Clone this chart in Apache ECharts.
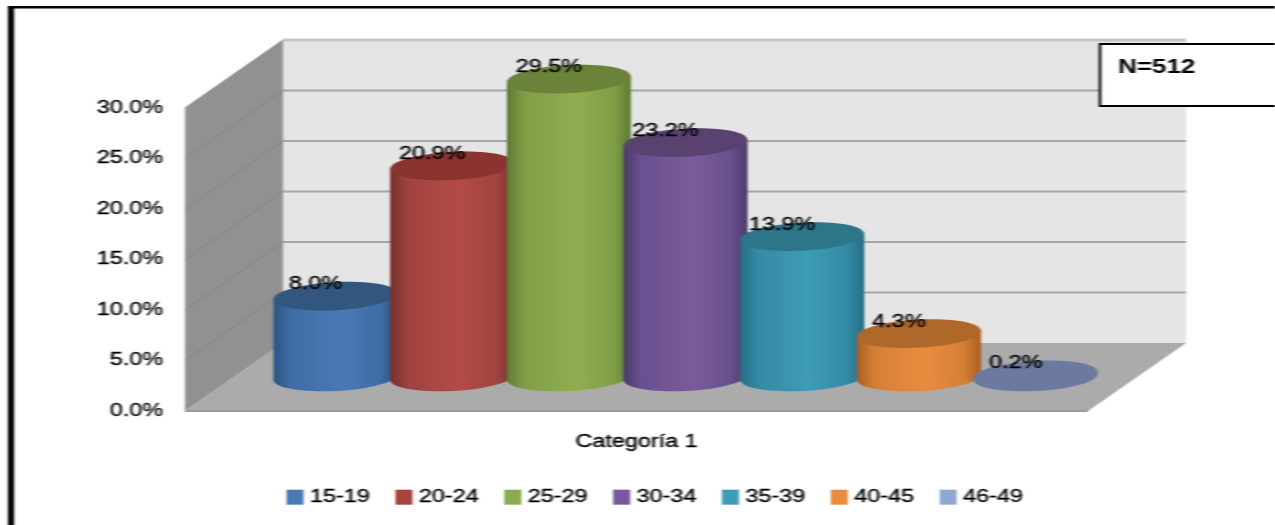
<!DOCTYPE html>
<html><head><meta charset="utf-8">
<style>html,body{margin:0;padding:0;background:#fff;overflow:hidden}
#c{width:981px;height:525px;transform:scaleX(1.2997);transform-origin:0 0;filter:blur(0.7px)}</style>
<script src="https://cdn.jsdelivr.net/npm/echarts@6/dist/echarts.min.js"></script>
</head><body><div id="c"></div>
<script>
const categories = ['Categoría 1'];
const seriesNames = ['15-19','20-24','25-29','30-34','35-39','40-45','46-49'];
const seriesValues = [8.0,20.9,29.5,23.2,13.9,4.3,0.2];
const yTicks = [0,5,10,15,20,25,30];
const noteText = 'N=512';
const swatch = ['#4a7ab5','#a8423f','#8cab4f','#75599a','#3d9bb5','#e88b3e','#8fa8d0'];
const edge   = ['#2b5484','#74302d','#5f7a33','#4c3a68','#256f84','#a85f1f','#6b7a9e'];
const shoulder=['#3f6da5','#a04340','#80a047','#6a5090','#348ba5','#d67f38','#6b7a9e'];
const mid    = ['#4a7ab5','#b34b47','#90ae50','#7a5c9c','#3f9cb6','#ea8c3f','#6b7a9e'];
const topCol = ['#33567f','#8a3331','#6c8238','#5a4270','#2d7589','#ad682a','#6b7a9e'];

const S = 1275/981;
const px = v => v/S;
const FONT = '"Liberation Sans"';
const DX = px(98), DY = 68, SPACING = px(116.7), RX = px(62), RY = 14, TILT = 0.07, SK = 3;
const INK = {color:'#000',textBorderColor:'#000',textBorderWidth:0.35};

function wallsItem(params, api){
  const t = api.value(1), cs = params.coordSys;
  const L = cs.x, R = cs.x+cs.width, y = api.coord([0,t])[1], kids = [];
  const poly = (pts,fill)=>({type:'polygon',shape:{points:pts},style:{fill}});
  const line = (x1,y1,x2,y2,stroke,w)=>({type:'line',shape:{x1,y1,x2,y2},style:{stroke,lineWidth:w}});
  if(t===0){
    const top = cs.y;
    kids.push(poly([[L+DX,top-DY],[R+DX,top-DY],[R+DX,y-DY],[L+DX,y-DY]],'#e5e5e5'));
    kids.push(poly([[L,top],[L+DX,top-DY],[L+DX,y-DY],[L,y]],'#919191'));
    kids.push(poly([[L,y],[L+DX,y-DY],[R+DX,y-DY],[R,y]],'#ababab'));
    kids.push(line(L,y,R,y,'#9a9a9a',2));
  } else {
    kids.push(line(L,y,L+DX,y-DY,'#858585',1));
    kids.push(line(L+DX,y-DY,R+DX,y-DY,t===30?'#c6c6c6':'#a6a6a6',t===30?3:2));
  }
  return {type:'group',children:kids};
}

function cylItem(i){ return function(params, api){
  const v = api.value(1), base = api.coord([0,0]), top = api.coord([0,v]);
  const cx = base[0]+DX/2+(i-3)*SPACING, by = base[1]-DY/2, ty = top[1]-DY/2;
  const grad = {type:'linear',x:0,y:0,x2:1,y2:0,colorStops:[
    {offset:0,color:edge[i]},{offset:0.14,color:shoulder[i]},{offset:0.55,color:mid[i]},
    {offset:0.86,color:shoulder[i]},{offset:1,color:edge[i]}]};
  const ell = (cy,fill)=>({type:'ellipse',x:cx,y:cy,rotation:TILT,shape:{cx:0,cy:0,rx:RX,ry:RY},style:{fill},z2:i+1});
  return {type:'group',children:[
    ell(by,grad),
    {type:'polygon',shape:{points:[[cx-RX,ty+SK],[cx+RX,ty-SK],[cx+RX,by-SK],[cx-RX,by+SK]]},style:{fill:grad},z2:i+1},
    ell(ty,topCol[i]),
    {type:'text',x:cx-px(20),y:ty-12,z2:50,style:{text:v.toFixed(1)+'%',fill:'#000',stroke:'#000',lineWidth:0.35,font:'18px '+FONT,textAlign:'center',textVerticalAlign:'middle'}}
  ]};
};}

const chart = echarts.init(document.getElementById('c'),null,{renderer:'canvas'});
chart.setOption({
  animation:false,
  backgroundColor:'#fff',
  grid:{left:px(185),width:px(903),top:108,height:303},
  xAxis:{type:'category',data:categories,axisLine:{show:false},axisTick:{show:false},
    axisLabel:{margin:22,fontFamily:FONT,fontSize:18,...INK}},
  yAxis:{type:'value',min:0,max:30,interval:5,splitLine:{show:false},axisLine:{show:false},
    axisTick:{show:false},
    axisLabel:{margin:px(22),fontFamily:FONT,fontSize:18,padding:[4,0,0,0],...INK,formatter:v=>v.toFixed(1)+'%'}},
  legend:{data:seriesNames,left:px(280),top:483,icon:'rect',itemWidth:px(17),itemHeight:15,itemGap:px(25.3),
    textStyle:{fontFamily:FONT,fontSize:18,...INK},selectedMode:false},
  graphic:[
    {type:'rect',z:100,shape:{x:px(8),y:6,width:px(1300),height:2.5},style:{fill:'#000'}},
    {type:'rect',z:100,shape:{x:px(8),y:6,width:px(6),height:530},style:{fill:'#000'}},
    {type:'rect',z:100,shape:{x:px(1100),y:44,width:px(200),height:62},style:{fill:'#fff',stroke:'#000',lineWidth:2}},
    {type:'text',z:101,x:px(1118),y:67,style:{text:noteText,fill:'#000',font:'bold 20px '+FONT,textVerticalAlign:'middle'}}
  ],
  series:[
    {type:'custom',silent:true,renderItem:wallsItem,data:yTicks.map(t=>[0,t]),encode:{x:0,y:1},z:1},
    ...seriesNames.map((n,i)=>({name:n,type:'custom',renderItem:cylItem(i),itemStyle:{color:swatch[i]},
      data:[[0,seriesValues[i]]],encode:{x:0,y:1},z:2}))
  ]
});
</script></body></html>
